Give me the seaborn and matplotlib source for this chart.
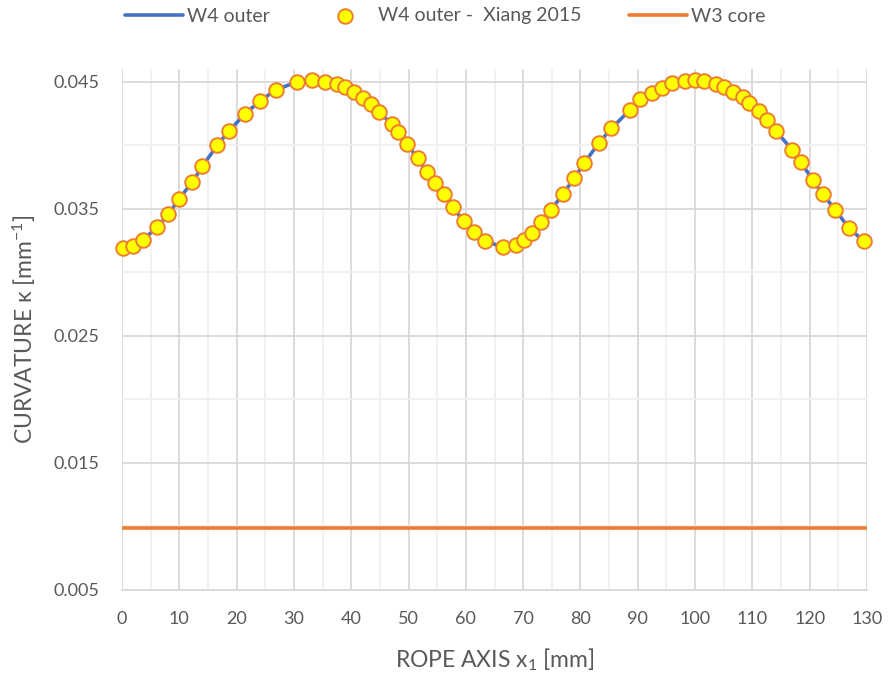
import numpy as np
import pandas as pd
import matplotlib
matplotlib.use("Agg")
import matplotlib.pyplot as plt
import seaborn as sns
from matplotlib.ticker import MultipleLocator, FormatStrFormatter

# ---- data ----
x_mm = [0.1, 2.0, 3.7, 6.05, 8.1, 10.0, 12.3, 14.0, 16.6, 18.7, 21.5, 24.0, 26.8,
        30.6, 33.2, 35.4, 37.5, 38.9, 40.5, 42.1, 43.4, 44.9, 47.1, 48.2, 49.7,
        51.6, 53.3, 54.6, 56.2, 57.7, 59.6, 61.4, 63.3, 66.4, 68.8, 70.2, 71.5,
        73.2, 74.9, 76.9, 78.9, 80.6, 83.2, 85.4, 88.6, 90.4, 92.4, 94.2, 96.0,
        98.3, 99.9, 101.5, 103.6, 105.0, 106.7, 108.3, 109.4, 111.2, 112.5,
        114.1, 116.9, 118.5, 120.5, 122.3, 124.5, 126.8, 129.5]
kappa_w4 = [0.03195, 0.03211, 0.03256, 0.03353, 0.03458, 0.03579, 0.03713, 0.03833,
            0.03998, 0.04114, 0.04248, 0.04345, 0.04435, 0.04500, 0.04510, 0.04500,
            0.04484, 0.04458, 0.04416, 0.04374, 0.04321, 0.04258, 0.04167, 0.04101,
            0.04012, 0.03896, 0.03786, 0.03702, 0.03613, 0.03516, 0.03400, 0.03317,
            0.03250, 0.03197, 0.03217, 0.03254, 0.03313, 0.03398, 0.03494, 0.03613,
            0.03739, 0.03857, 0.04017, 0.04132, 0.04277, 0.04361, 0.04413, 0.04450,
            0.04487, 0.04508, 0.04510, 0.04502, 0.04484, 0.04458, 0.04419, 0.04376,
            0.04332, 0.04266, 0.04198, 0.04114, 0.03965, 0.03865, 0.03728, 0.03613,
            0.03490, 0.03350, 0.03243]
core_x = [0, 130]
core_kappa = [0.00988, 0.00988]

x_ticks = list(range(0, 131, 10))
y_ticks = [0.005, 0.015, 0.025, 0.035, 0.045]

df_w4 = pd.DataFrame({"x": x_mm, "k": kappa_w4})
df_core = pd.DataFrame({"x": core_x, "k": core_kappa})

sns.set_theme(style="white")
plt.rcParams['font.family'] = ['Lato', 'DejaVu Sans']
plt.rcParams['mathtext.fontset'] = 'custom'
plt.rcParams['mathtext.rm'] = 'Lato'
plt.rcParams['mathtext.it'] = 'Lato:italic'
plt.rcParams['mathtext.default'] = 'regular'

txt = '#595959'
fig = plt.figure(figsize=(8.9, 6.8), dpi=100)
ax = fig.add_axes([122/890, 1-590/680, (867-122)/890, (590-69)/680])

sns.lineplot(data=df_w4, x="x", y="k", ax=ax, color='#4472C4', linewidth=2.6,
             label='W4 outer', zorder=3, sort=True)
sns.scatterplot(data=df_w4, x="x", y="k", ax=ax, color='#FFFF00', edgecolor='#ED7D31',
                s=110, linewidth=1.4, label='W4 outer -  Xiang 2015', zorder=4,
                clip_on=False)
sns.lineplot(data=df_core, x="x", y="k", ax=ax, color='#ED7D31', linewidth=2.6,
             label='W3 core', zorder=3)

ax.set_xlim(0, 130)
ax.set_ylim(0.005, 0.046)
ax.set_xticks(x_ticks)
ax.set_yticks(y_ticks)
ax.yaxis.set_major_formatter(FormatStrFormatter('%.3f'))
ax.xaxis.set_minor_locator(MultipleLocator(5))
ax.yaxis.set_minor_locator(MultipleLocator(0.005))
ax.grid(which='major', color='#D9D9D9', linewidth=1.3)
ax.grid(which='minor', color='#F0F0F0', linewidth=1.3)
ax.set_axisbelow(True)
for s in ['top', 'right', 'left']:
    ax.spines[s].set_visible(False)
ax.spines['bottom'].set_color('#D9D9D9')
ax.spines['bottom'].set_linewidth(1.3)
ax.tick_params(axis='both', which='both', length=0, labelsize=13, labelcolor=txt)
ax.tick_params(axis='x', pad=15)
ax.tick_params(axis='y', pad=16)

ax.set_xlabel(r'ROPE AXIS x$_1$ [mm]', fontsize=16.5, color=txt, labelpad=14)
ax.set_ylabel(r'CURVATURE κ [mm$^{-1}$]', fontsize=16.5, color=txt, labelpad=11)

ax.legend(loc='center', bbox_to_anchor=(0.5, 1-16/680), bbox_transform=fig.transFigure,
          ncol=3, frameon=False, fontsize=14, labelcolor=txt, handlelength=3.0,
          columnspacing=2.4, handletextpad=0.2)

fig.savefig('out.png', dpi=100)
